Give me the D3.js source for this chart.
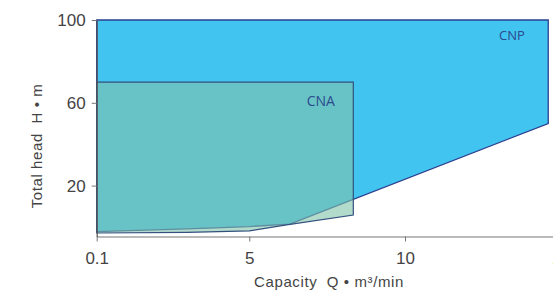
<!DOCTYPE html>
<html><head><meta charset="utf-8">
<script src="https://cdn.jsdelivr.net/npm/d3@7"></script>
<style>body{margin:0;background:#fff;}svg{display:block;}</style>
</head><body>
<script>
// Data (Q in m³/min, H in m)
const xTicks = [0.1, 5, 10, 15];
const xTickLabels = ["0.1", "5", "10", "15"];
const yTicks = [20, 60, 100];
const yTickLabels = ["20", "60", "100"];
const cnpQ = [0.1, 14.6, 14.6, 6.3, 5.0, 3.0, 0.1];
const cnpH = [100, 100, 50, 1.4, 0.2, -0.9, -2.2];
const cnaQ = [0.1, 8.34, 8.34, 6.2, 5.0, 3.0, 0.1];
const cnaH = [70, 70, 5.8, 1.0, -1.9, -2.6, -2.9];
const seriesNames = ["CNP", "CNA"];

const W = 553, H = 293;
const svg = d3.select("body").append("svg").attr("width", W).attr("height", H);
const x = d3.scaleLinear().domain([0.1, 15]).range([96.7, 560.7]);
const y = d3.scaleLinear().domain([-4.6, 100]).range([236.5, 20]);
const font = "'Liberation Sans', Arial, sans-serif";

const line = d3.line().x(d => x(d[0])).y(d => y(d[1])).curve(d3.curveLinearClosed);
const cnp = cnpQ.map((q, i) => [q, cnpH[i]]);
const cna = cnaQ.map((q, i) => [q, cnaH[i]]);

svg.append("path").attr("d", line(cnp))
  .attr("fill", "#41c4f0").attr("stroke", "#2b3f8f").attr("stroke-width", 1.3);
svg.append("path").attr("d", line(cna))
  .attr("fill", "rgb(128,195,170)").attr("fill-opacity", 0.6)
  .attr("stroke", "#34507e").attr("stroke-width", 1.2);

// Axes
const xAxis = d3.axisBottom(x).tickValues(xTicks).tickFormat((d, i) => xTickLabels[i])
  .tickSize(5).tickSizeOuter(0);
const gx = svg.append("g").attr("transform", `translate(0,${y(-4.6)})`).call(xAxis);
gx.select(".domain").attr("stroke", "#777").attr("stroke-width", 1.2);
gx.selectAll(".tick line").attr("stroke", "#777");
gx.selectAll(".tick text").attr("font-family", font).attr("font-size", 17).attr("fill", "#444")
  .attr("y", 0).attr("dy", null).attr("transform", null)
  .each(function(){ d3.select(this).attr("y", 27.5).attr("dy", 0); });

const yAxis = d3.axisLeft(y).tickValues(yTicks).tickFormat((d, i) => yTickLabels[i])
  .tickSize(5).tickSizeOuter(0);
const gy = svg.append("g").attr("transform", `translate(${x(0.1)},0)`).call(yAxis);
gy.select(".domain").attr("stroke", "#555").attr("stroke-width", 1.2);
gy.selectAll(".tick line").attr("stroke", "#777");
gy.selectAll(".tick text").attr("font-family", font).attr("font-size", 17).attr("fill", "#444").attr("x", -11);

// Axis titles
svg.append("text").attr("x", 329).attr("y", 287).attr("text-anchor", "middle")
  .attr("font-family", font).attr("font-size", 15).attr("letter-spacing", 0.6).attr("fill", "#444")
  .attr("xml:space", "preserve")
  .text("Capacity  Q • m³/min");
svg.append("text").attr("transform", "translate(41.5,146) rotate(-90)").attr("text-anchor", "middle")
  .attr("font-family", font).attr("font-size", 15).attr("letter-spacing", 0.6).attr("fill", "#444")
  .attr("xml:space", "preserve")
  .text("Total head  H • m");

// Region labels
svg.append("text").attr("x", x(13.85)).attr("y", y(90.3)).attr("text-anchor", "end")
  .attr("font-family", "'Open Sans', sans-serif").attr("font-size", 13).attr("fill", "#2c4a8c")
  .text(seriesNames[0]);
svg.append("text").attr("x", x(7.75)).attr("y", y(58.6)).attr("text-anchor", "end")
  .attr("font-family", "'Open Sans', sans-serif").attr("font-size", 14).attr("fill", "#2c4a8c")
  .text(seriesNames[1]);
</script>
</body></html>
